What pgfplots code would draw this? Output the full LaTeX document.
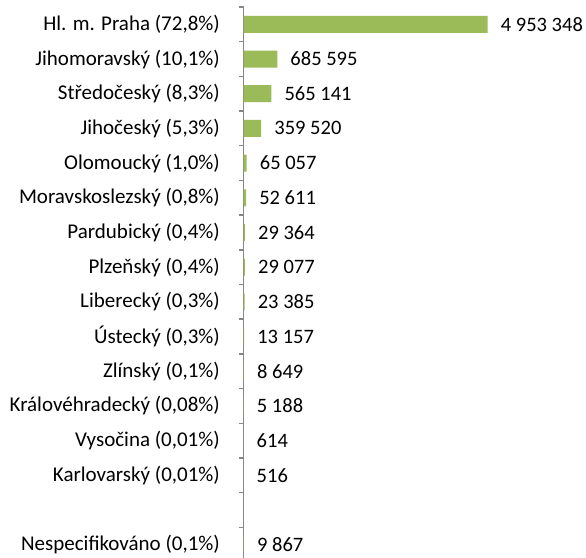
\documentclass[border=0pt]{standalone}
\usepackage{pgfplots}
\pgfplotsset{compat=1.18}
\usepackage{pgfplotstable}
\usepackage{fontspec}
\setmainfont{Carlito}
\definecolor{barg}{HTML}{9BBB59}
\definecolor{axg}{HTML}{878787}
\pgfplotstableread[col sep=comma]{
y,v,lab
15,4953348,4 953 348
14,685595,685 595
13,565141,565 141
12,359520,359 520
11,65057,65 057
10,52611,52 611
9,29364,29 364
8,29077,29 077
7,23385,23 385
6,13157,13 157
5,8649,8 649
4,5188,5 188
3,614,614
2,516,516
0,9867,9 867
}\data
\newcommand{\lf}{\fontsize{21}{24}\selectfont}
\newcommand{\vf}{\fontsize{20.5}{24}\selectfont}
\begin{document}
\begin{tikzpicture}
\path[use as bounding box] (0,0) rectangle (586pt,557pt);
\begin{axis}[
  at={(243.5pt,-5pt)}, anchor=south west,
  scale only axis, width=330.3pt, height=555pt,
  xmin=0, xmax=6700000, ymin=-0.5, ymax=15.5,
  enlargelimits=false, clip=false,
  axis x line=none, axis y line=left,
  axis line style={-, axg, line width=1.4pt},
  ytick={0,1,2,3,4,5,6,7,8,9,10,11,12,13,14,15},
  yticklabels={{Nespecifikováno (0,1\%)},{},{Karlovarský (0,01\%)},{Vysočina (0,01\%)},{Královéhradecký (0,08\%)},{Zlínský (0,1\%)},{Ústecký (0,3\%)},{Liberecký (0,3\%)},{Plzeňský (0,4\%)},{Pardubický (0,4\%)},{Moravskoslezský (0,8\%)},{Olomoucký (1,0\%)},{Jihočeský (5,3\%)},{Středočeský (8,3\%)},{Jihomoravský (10,1\%)},{Hl. m. Praha (72,8\%)}},
  minor ytick={-0.5,0.5,...,15.5},
  major tick length=0pt, minor tick length=5pt,
  tick align=outside, tick pos=left,
  minor tick style={axg, line width=1.4pt},
  yticklabel style={font=\lf, inner sep=0pt, anchor=east, xshift=-23.5pt, text=black},
  xbar, bar width=17pt, bar shift=0pt,
  point meta=explicit symbolic,
  nodes near coords,
  nodes near coords align={horizontal},
  every node near coord/.append style={font=\vf, anchor=west, inner sep=0pt, xshift=13pt, text=black},
]
\addplot[fill=barg, draw=none] table[x=v, y=y, meta=lab] {\data};
\end{axis}
\end{tikzpicture}
\end{document}
